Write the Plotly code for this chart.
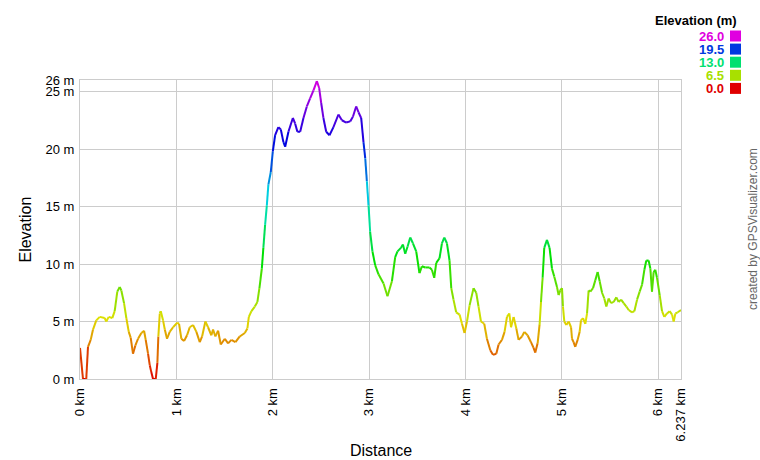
import colorsys
import plotly.graph_objects as go

# ---- data ----
distance_km = [
    0.000, 0.031, 0.065, 0.083, 0.111, 0.135, 0.169, 0.205, 0.256, 0.273,
    0.298, 0.335, 0.360, 0.387, 0.412, 0.429, 0.457, 0.481, 0.506, 0.526,
    0.550, 0.574, 0.602, 0.637, 0.665, 0.682, 0.706, 0.724, 0.740, 0.758,
    0.786, 0.803, 0.813, 0.828, 0.838, 0.862, 0.880, 0.903, 0.931, 0.966,
    1.010, 1.028, 1.052, 1.080, 1.111, 1.139, 1.173, 1.208, 1.243, 1.267,
    1.301, 1.329, 1.363, 1.381, 1.405, 1.433, 1.461, 1.503, 1.537, 1.571,
    1.613, 1.658, 1.710, 1.737, 1.752, 1.779, 1.814, 1.841, 1.862, 1.887,
    1.903, 1.921, 1.939, 1.955, 1.980, 2.001, 2.025, 2.059, 2.084, 2.111,
    2.129, 2.163, 2.209, 2.233, 2.256, 2.285, 2.319, 2.354, 2.388, 2.423,
    2.458, 2.482, 2.503, 2.526, 2.555, 2.589, 2.630, 2.682, 2.718, 2.762,
    2.804, 2.832, 2.866, 2.890, 2.918, 2.942, 2.960, 2.977, 2.994, 3.011,
    3.035, 3.063, 3.098, 3.150, 3.191, 3.237, 3.271, 3.295, 3.330, 3.351,
    3.375, 3.399, 3.427, 3.455, 3.489, 3.523, 3.548, 3.583, 3.627, 3.652,
    3.676, 3.697, 3.731, 3.756, 3.780, 3.808, 3.835, 3.853, 3.876, 3.904,
    3.939, 3.964, 3.991, 4.016, 4.043, 4.084, 4.112, 4.136, 4.161, 4.195,
    4.223, 4.258, 4.286, 4.320, 4.344, 4.379, 4.406, 4.431, 4.455, 4.473,
    4.500, 4.528, 4.551, 4.587, 4.611, 4.645, 4.680, 4.707, 4.725, 4.749,
    4.769, 4.784, 4.801, 4.818, 4.846, 4.873, 4.898, 4.922, 4.950, 4.967,
    4.984, 5.002, 5.012, 5.026, 5.047, 5.071, 5.096, 5.106, 5.122, 5.140,
    5.164, 5.185, 5.199, 5.220, 5.244, 5.262, 5.278, 5.296, 5.324, 5.348,
    5.372, 5.393, 5.418, 5.441, 5.462, 5.486, 5.511, 5.538, 5.566, 5.590,
    5.615, 5.642, 5.670, 5.694, 5.729, 5.753, 5.781, 5.808, 5.833, 5.857,
    5.877, 5.901, 5.919, 5.936, 5.953, 5.970, 5.988, 6.016, 6.040, 6.064,
    6.092, 6.119, 6.144, 6.161, 6.179, 6.203, 6.237,
]

elevation_m = [
    2.7, 0.0, 0.0, 2.8, 3.4, 4.3, 5.1, 5.4, 5.3, 5.0,
    5.4, 5.3, 5.9, 7.6, 8.0, 7.7, 6.6, 5.3, 4.1, 3.6,
    2.2, 2.9, 3.5, 4.0, 4.2, 3.4, 2.2, 1.2, 0.6, 0.0,
    0.0, 1.4, 3.7, 5.7, 5.9, 5.1, 4.3, 3.5, 4.1, 4.5,
    4.9, 4.8, 3.5, 3.3, 3.8, 4.5, 4.7, 4.1, 3.2, 3.7,
    5.0, 4.5, 3.8, 4.3, 3.7, 4.2, 3.0, 3.5, 3.1, 3.4,
    3.2, 3.7, 4.0, 4.4, 5.4, 5.9, 6.3, 6.7, 7.9, 9.6,
    11.4, 13.4, 15.1, 16.9, 18.0, 19.8, 21.2, 21.9, 21.7, 20.6,
    20.2, 21.5, 22.7, 22.2, 21.5, 21.5, 22.7, 23.7, 24.4, 25.1,
    25.9, 25.3, 24.0, 22.7, 21.5, 21.2, 21.9, 23.0, 22.5, 22.3,
    22.4, 22.8, 23.7, 23.2, 22.7, 20.6, 19.2, 17.2, 15.1, 12.8,
    11.1, 9.9, 9.1, 8.3, 7.2, 8.5, 10.6, 11.1, 11.4, 11.7,
    10.9, 11.5, 12.3, 11.8, 11.1, 9.2, 9.8, 9.7, 9.7, 9.5,
    8.8, 10.1, 10.5, 11.8, 12.3, 11.8, 10.3, 7.9, 6.9, 5.8,
    5.6, 4.8, 4.0, 5.0, 6.4, 7.9, 7.5, 6.3, 5.0, 4.8,
    3.5, 2.5, 2.1, 2.2, 3.0, 3.4, 4.1, 5.4, 5.7, 4.5,
    5.4, 4.4, 3.4, 3.7, 4.1, 3.8, 3.2, 2.7, 2.3, 3.1,
    4.7, 6.7, 8.8, 11.4, 12.1, 11.4, 9.6, 8.9, 8.0, 7.3,
    7.7, 7.9, 6.3, 5.0, 4.7, 5.0, 4.5, 3.5, 3.2, 2.8,
    3.4, 4.1, 5.1, 5.3, 4.8, 5.7, 7.7, 7.6, 7.9, 8.6,
    9.3, 8.5, 7.5, 7.0, 6.3, 7.0, 6.6, 6.7, 7.1, 6.7,
    6.9, 6.6, 6.3, 6.0, 5.8, 5.9, 6.9, 7.6, 8.2, 9.5,
    10.3, 10.3, 9.6, 7.6, 9.3, 9.5, 8.8, 7.3, 5.9, 5.4,
    5.7, 5.9, 5.6, 5.0, 5.7, 5.8, 6.0,
]

x_tick_values = [0, 1, 2, 3, 4, 5, 6, 6.237]
x_tick_labels = ["0 km", "1 km", "2 km", "3 km", "4 km", "5 km", "6 km", "6.237 km"]
y_tick_values = [0, 5, 10, 15, 20, 25, 26]
y_tick_labels = ["0 m", "5 m", "10 m", "15 m", "20 m", "25 m", "26 m"]
legend_values = [26.0, 19.5, 13.0, 6.5, 0.0]

ELEV_MIN, ELEV_MAX = 0.0, 26.0
X_MAX = 6.237
FONT = "Liberation Sans, Arial, sans-serif"


def elev_color(v):
    t = (v - ELEV_MIN) / (ELEV_MAX - ELEV_MIN)
    t = min(max(t, 0.0), 1.0)
    r, g, b = colorsys.hsv_to_rgb(t * 300.0 / 360.0, 1.0, 0.88)
    return "rgb(%d,%d,%d)" % (round(r * 255), round(g * 255), round(b * 255))


fig = go.Figure()

for i in range(len(distance_km) - 1):
    mean_e = (elevation_m[i] + elevation_m[i + 1]) / 2.0
    fig.add_trace(go.Scatter(
        x=[distance_km[i], distance_km[i + 1]],
        y=[elevation_m[i], elevation_m[i + 1]],
        mode="lines",
        line=dict(color=elev_color(mean_e), width=2),
        showlegend=False,
        hoverinfo="skip",
    ))

W, H = 760, 460
ML, MR, MT, MB = 80, 79, 80, 81
PW, PH = W - ML - MR, H - MT - MB


def px_x(px):
    return (px - ML) / PW


def px_y(py):
    return (H - MB - py) / PH


annotations = [
    dict(text="<b>Elevation (m)</b>", x=px_x(739), y=px_y(21), xref="paper", yref="paper",
         xanchor="right", yanchor="middle", showarrow=False,
         font=dict(family=FONT, size=13, color="black")),
    dict(text="Elevation", x=px_x(25), y=0.5, xref="paper", yref="paper",
         textangle=-90, xanchor="center", yanchor="middle", showarrow=False,
         font=dict(family=FONT, size=16, color="black")),
    dict(text="Distance", x=0.5, y=px_y(450), xref="paper", yref="paper",
         xanchor="center", yanchor="middle", showarrow=False,
         font=dict(family=FONT, size=16, color="black")),
    dict(text="created by GPSVisualizer.com", x=px_x(753), y=px_y(229), xref="paper", yref="paper",
         textangle=-90, xanchor="center", yanchor="middle", showarrow=False,
         font=dict(family=FONT, size=12, color="#666666")),
]
shapes = []
for k, v in enumerate(legend_values):
    cy = 36 + k * 13.1
    c = elev_color(v)
    annotations.append(dict(
        text="<b>%.1f</b>" % v, x=px_x(726), y=px_y(cy), xref="paper", yref="paper",
        xanchor="right", yanchor="middle", showarrow=False,
        font=dict(family=FONT, size=13, color=c)))
    shapes.append(dict(
        type="rect", xref="paper", yref="paper",
        x0=px_x(730), x1=px_x(741), y0=px_y(cy + 5.5), y1=px_y(cy - 5.5),
        fillcolor=c, line=dict(width=0)))

fig.update_layout(
    width=W, height=H,
    margin=dict(l=ML, r=MR, t=MT, b=MB, pad=0),
    paper_bgcolor="white", plot_bgcolor="white",
    font=dict(family=FONT, size=13, color="black"),
    showlegend=False,
    hovermode=False,
    annotations=annotations,
    shapes=shapes,
    xaxis=dict(
        range=[0, X_MAX], tickmode="array", tickvals=x_tick_values, ticktext=x_tick_labels,
        tickangle=-90, ticks="", ticklabelstandoff=3,
        showgrid=True, gridcolor="#cccccc", gridwidth=1,
        showline=True, linecolor="#cccccc", linewidth=1, mirror=True,
        zeroline=False, tickfont=dict(family=FONT, size=13, color="black"),
    ),
    yaxis=dict(
        range=[0, 26], tickmode="array", tickvals=y_tick_values, ticktext=y_tick_labels,
        ticks="", ticklabelstandoff=2,
        showgrid=True, gridcolor="#cccccc", gridwidth=1,
        showline=True, linecolor="#cccccc", linewidth=1, mirror=True,
        zeroline=False, tickfont=dict(family=FONT, size=13, color="black"),
    ),
)

# remove the browser's default 8px page margin so the figure sits at the window origin
fig.write_html(
    "out.html",
    config={"displayModeBar": False},
    post_script="document.body.style.margin='0';document.body.style.overflow='hidden';",
)
